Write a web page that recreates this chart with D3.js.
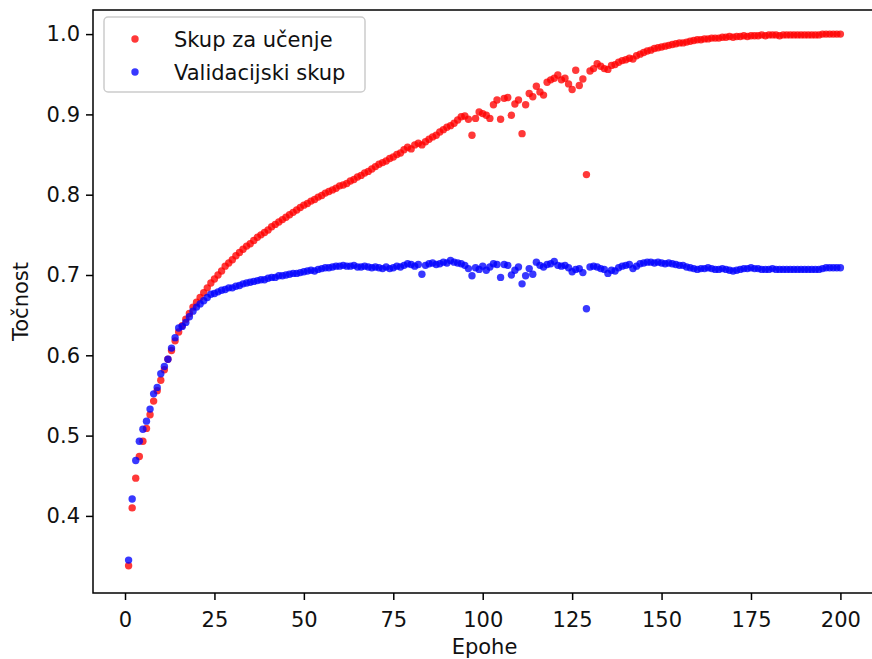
<!DOCTYPE html>
<html>
<head>
<meta charset="utf-8">
<script src="https://cdn.jsdelivr.net/npm/d3@7"></script>
<style>
  body { margin: 0; background: #fff; overflow: hidden; }
  svg { display: block; }
  text { font-family: "DejaVu Sans", sans-serif; }
</style>
</head>
<body>
<svg id="chart" width="872" height="659"></svg>
<script>
var epochs = d3.range(1, 201);

var trainAcc = [
  0.338, 0.410, 0.447, 0.474, 0.493, 0.509, 0.526, 0.543, 0.556, 0.569,
  0.582, 0.595, 0.606, 0.618, 0.629, 0.637, 0.645, 0.652, 0.660, 0.666,
  0.672, 0.678, 0.684, 0.690, 0.695, 0.700, 0.705, 0.711, 0.715, 0.719,
  0.724, 0.728, 0.732, 0.736, 0.739, 0.743, 0.747, 0.750, 0.753, 0.756,
  0.760, 0.763, 0.766, 0.769, 0.772, 0.775, 0.778, 0.781, 0.784, 0.787,
  0.789, 0.792, 0.794, 0.797, 0.799, 0.802, 0.804, 0.806, 0.808, 0.811,
  0.812, 0.814, 0.817, 0.819, 0.822, 0.824, 0.827, 0.829, 0.832, 0.835,
  0.838, 0.840, 0.842, 0.845, 0.847, 0.850, 0.852, 0.856, 0.859, 0.857,
  0.862, 0.864, 0.862, 0.866, 0.869, 0.872, 0.874, 0.878, 0.881, 0.884,
  0.886, 0.889, 0.893, 0.897, 0.898, 0.894, 0.874, 0.895, 0.903, 0.901,
  0.899, 0.895, 0.912, 0.918, 0.894, 0.920, 0.921, 0.899, 0.913, 0.918,
  0.876, 0.912, 0.926, 0.922, 0.935, 0.928, 0.924, 0.940, 0.943, 0.945,
  0.949, 0.943, 0.945, 0.938, 0.931, 0.955, 0.936, 0.944, 0.825, 0.954,
  0.957, 0.963, 0.960, 0.957, 0.956, 0.961, 0.962, 0.965, 0.967, 0.968,
  0.970, 0.969, 0.973, 0.975, 0.977, 0.979, 0.980, 0.982, 0.983, 0.984,
  0.985, 0.986, 0.987, 0.988, 0.989, 0.989, 0.990, 0.991, 0.992, 0.993,
  0.993, 0.994, 0.994, 0.995, 0.995, 0.995, 0.996, 0.996, 0.997, 0.996,
  0.997, 0.997, 0.998, 0.997, 0.998, 0.998, 0.998, 0.999, 0.998, 0.999,
  0.999, 0.999, 0.998, 0.999, 0.999, 0.999, 0.999, 0.999, 0.999, 0.999,
  0.999, 0.999, 0.999, 0.999, 1.000, 1.000, 1.000, 1.000, 1.000, 1.000
];

var validAcc = [
  0.345, 0.421, 0.469, 0.493, 0.508, 0.518, 0.533, 0.552, 0.560, 0.577,
  0.586, 0.595, 0.609, 0.622, 0.634, 0.636, 0.641, 0.648, 0.655, 0.660,
  0.664, 0.668, 0.672, 0.676, 0.677, 0.679, 0.681, 0.682, 0.684, 0.684,
  0.686, 0.687, 0.689, 0.690, 0.691, 0.692, 0.693, 0.694, 0.694, 0.696,
  0.697, 0.697, 0.699, 0.699, 0.700, 0.701, 0.702, 0.702, 0.703, 0.704,
  0.705, 0.706, 0.705, 0.707, 0.708, 0.709, 0.709, 0.710, 0.711, 0.711,
  0.712, 0.711, 0.711, 0.712, 0.710, 0.710, 0.711, 0.710, 0.709, 0.710,
  0.709, 0.708, 0.710, 0.708, 0.709, 0.711, 0.710, 0.712, 0.714, 0.713,
  0.711, 0.713, 0.701, 0.712, 0.714, 0.715, 0.713, 0.714, 0.716, 0.715,
  0.718, 0.716, 0.715, 0.714, 0.712, 0.708, 0.699, 0.709, 0.707, 0.711,
  0.706, 0.710, 0.714, 0.713, 0.697, 0.713, 0.712, 0.700, 0.706, 0.710,
  0.689, 0.699, 0.708, 0.701, 0.716, 0.712, 0.710, 0.713, 0.714, 0.717,
  0.712, 0.711, 0.712, 0.709, 0.704, 0.707, 0.708, 0.703, 0.658, 0.710,
  0.711, 0.710, 0.708, 0.707, 0.702, 0.706, 0.705, 0.709, 0.711, 0.712,
  0.713, 0.708, 0.711, 0.714, 0.715, 0.716, 0.716, 0.715, 0.716, 0.715,
  0.714, 0.715, 0.714, 0.713, 0.712, 0.712, 0.710, 0.709, 0.708, 0.707,
  0.708, 0.708, 0.709, 0.708, 0.707, 0.707, 0.708, 0.707, 0.706, 0.705,
  0.706, 0.707, 0.708, 0.708, 0.709, 0.708, 0.708, 0.707, 0.707, 0.707,
  0.708, 0.707, 0.707, 0.707, 0.707, 0.707, 0.707, 0.707, 0.707, 0.707,
  0.707, 0.707, 0.707, 0.707, 0.708, 0.709, 0.709, 0.709, 0.709, 0.709
];

var xTicks = [0, 25, 50, 75, 100, 125, 150, 175, 200];
var yTicks = [0.4, 0.5, 0.6, 0.7, 0.8, 0.9, 1.0];
var seriesNames = ["Skup za učenje", "Validacijski skup"];
var seriesColors = ["#ff0000", "#0000ff"];

function drawChart() {
    // right edge of the axes falls just outside the picture
    var plotLeft = 93, plotRight = 876, plotTop = 10, plotBottom = 593;
    var fontSize = "21px";
    var svg = d3.select("#chart");

    var x = d3.scaleLinear().domain([-8.95, 209.95]).range([plotLeft, plotRight]);
    var y = d3.scaleLinear().domain([0.304, 1.030]).range([plotBottom, plotTop]);

    // points: training first, validation on top
    [trainAcc, validAcc].forEach(function (vals, s) {
        svg.append("g")
          .selectAll("circle")
          .data(epochs)
          .enter()
          .append("circle")
            .attr("cx", function (d) { return x(d); })
            .attr("cy", function (d, i) { return y(vals[i]); })
            .attr("r", 3.7)
            .style("fill", seriesColors[s])
            .style("fill-opacity", 0.78);
    });

    // axes
    var xAxis = svg.append("g")
        .attr("transform", "translate(0," + plotBottom + ")")
        .call(d3.axisBottom(x).tickValues(xTicks).tickSize(7).tickPadding(12).tickFormat(d3.format("d")));
    var yAxis = svg.append("g")
        .attr("transform", "translate(" + plotLeft + ",0)")
        .call(d3.axisLeft(y).tickValues(yTicks).tickSize(7).tickPadding(6).tickFormat(d3.format(".1f")));

    [xAxis, yAxis].forEach(function (ax) {
        ax.select(".domain").remove();
        ax.selectAll("text").style("font-size", fontSize).style("fill", "#111");
        ax.selectAll("line").style("stroke", "#000").style("stroke-width", 1.5);
    });

    // frame
    svg.append("rect")
        .attr("x", plotLeft).attr("y", plotTop)
        .attr("width", plotRight - plotLeft).attr("height", plotBottom - plotTop)
        .style("fill", "none").style("stroke", "#000").style("stroke-width", 1.5);

    svg.append("text")
        .attr("x", (plotLeft + plotRight) / 2).attr("y", 654)
        .attr("text-anchor", "middle")
        .style("font-size", fontSize).style("fill", "#111")
        .text("Epohe");

    svg.append("text")
        .attr("transform", "translate(28," + ((plotTop + plotBottom) / 2) + ") rotate(-90)")
        .attr("text-anchor", "middle")
        .style("font-size", fontSize).style("fill", "#111")
        .text("Točnost");

    // legend
    var legend = svg.append("g");
    legend.append("rect")
        .attr("x", 104).attr("y", 17)
        .attr("width", 261).attr("height", 75)
        .attr("rx", 4)
        .style("fill", "#fff").style("fill-opacity", 0.8)
        .style("stroke", "#cccccc").style("stroke-width", 1.5);

    seriesNames.forEach(function (name, i) {
        legend.append("circle")
            .attr("cx", 135).attr("cy", 39 + i * 33)
            .attr("r", 3.7)
            .style("fill", seriesColors[i]).style("fill-opacity", 0.78);
        legend.append("text")
            .attr("x", 174).attr("y", 47 + i * 33)
            .style("font-size", fontSize).style("fill", "#111")
            .text(name);
    });
}

drawChart();
</script>
</body>
</html>
